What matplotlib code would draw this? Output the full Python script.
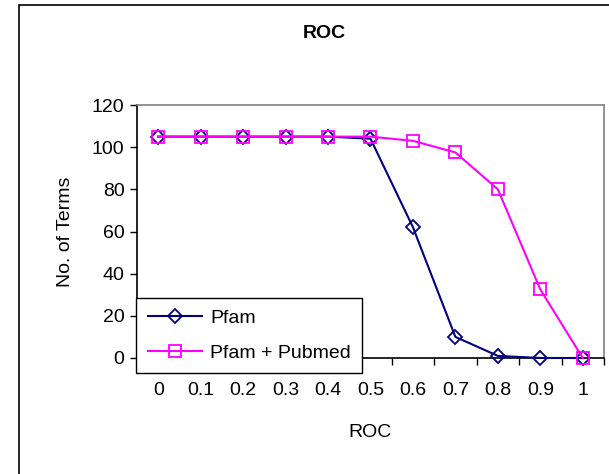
import matplotlib.pyplot as plt
from matplotlib.patches import Rectangle
import numpy as np

plt.rcParams['font.family'] = ['Liberation Sans', 'DejaVu Sans']

roc_labels = ['0', '0.1', '0.2', '0.3', '0.4', '0.5', '0.6', '0.7', '0.8', '0.9', '1']
pfam = [105, 105, 105, 105, 105, 104, 62, 10, 1, 0, 0]
pfam_pubmed = [105, 105, 105, 105, 105, 105, 103, 97.5, 80, 32.5, 0]

fig = plt.figure(figsize=(6.09, 4.74), dpi=100)

# outer chart border (right and bottom edges run off the picture)
fig.patches.append(Rectangle((19/609, -0.1), 1.2, 1 - 5/474 + 0.1, transform=fig.transFigure,
                             fill=False, edgecolor='black', linewidth=1.2, zorder=0))

ax = fig.add_axes([137/609, 1 - 358/474, (604 - 137)/609, (358 - 105)/474])

x = np.arange(len(roc_labels))
ax.plot(x, pfam, color='#000080', marker='D', markersize=7, markerfacecolor='none',
        markeredgewidth=1.3, linewidth=1.5, label='Pfam', clip_on=False, zorder=3)
ax.plot(x, pfam_pubmed, color='#FF00FF', marker='s', markersize=8.5, markerfacecolor='none',
        markeredgewidth=1.3, linewidth=1.5, label='Pfam + Pubmed', clip_on=False, zorder=4)

ax.set_xlim(-0.5, len(roc_labels) - 0.5)
ax.set_ylim(0, 120)
ax.set_yticks(range(0, 121, 20))
ax.set_xticks(x)
ax.set_xticklabels(roc_labels)
ax.set_xticks(np.arange(-0.5, len(roc_labels), 1), minor=True)
ax.tick_params(axis='x', which='major', length=0, pad=17, labelsize=14)
ax.tick_params(axis='x', which='minor', length=5, width=1, direction='out')
ax.tick_params(axis='y', length=5, width=1, direction='out', labelsize=14, pad=4)

ax.spines['top'].set_color('#808080')
ax.spines['right'].set_color('#808080')
ax.spines['left'].set_color('black')
ax.spines['bottom'].set_color('black')
for s in ax.spines.values():
    s.set_linewidth(1.2)

ax.set_xlabel('ROC', fontsize=14, labelpad=18)
ax.set_ylabel('No. of Terms', fontsize=14, labelpad=13)
fig.text(324/609, 1 - 33/474, 'ROC', ha='center', va='center', fontsize=14, fontweight='bold')

leg = ax.legend(loc='lower left', bbox_to_anchor=(-0.002, -0.06), fontsize=14, frameon=True,
                fancybox=False, edgecolor='black', framealpha=1, borderpad=0.6,
                handlelength=2.8, handletextpad=0.4, labelspacing=0.86, borderaxespad=0)
leg.get_frame().set_linewidth(1.0)
leg.set_zorder(5)

plt.savefig('out.png', dpi=100)
